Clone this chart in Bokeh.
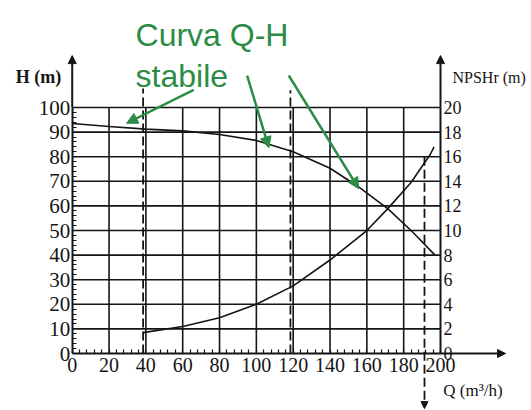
from bokeh.plotting import figure
from bokeh.models import (LinearAxis, Range1d, SingleIntervalTicker, Arrow,
                          NormalHead, Label)
from bokeh.embed import file_html
from bokeh.resources import INLINE

# ---- data ----
Q_H = [0, 20, 40, 60, 80, 100, 120, 140, 155, 171.5, 185, 197]
H = [93.5, 92.3, 91.2, 90.5, 89.0, 86.6, 82.0, 75.3, 68.0, 58.8, 49.3, 40.0]

Q_NPSH = [38.5, 60, 80, 100, 120, 140, 160, 171.5, 184, 194.5, 196.5]
NPSH = [1.7, 2.2, 2.9, 4.0, 5.5, 7.6, 10.0, 11.8, 13.9, 16.2, 16.8]

GRID_Q = [20, 40, 60, 80, 100, 120, 140, 160, 180]
GRID_H = [10, 20, 30, 40, 50, 60, 70, 80, 90, 100]
DASH_Q = [38.5, 118.5]
DASH_Q_ARROW = 191.3

TITLE_1 = "Curva Q-H"
TITLE_2 = "stabile"
GREEN = "#2b8c45"
INK = "#151515"

p = figure(width=531, height=410,
           x_range=Range1d(-38.94, 249.41), y_range=Range1d(-23.17, 143.50),
           min_border=0, toolbar_location=None, output_backend="svg",
           x_axis_location=None, y_axis_location=None)
p.extra_y_ranges = {"npsh": Range1d(-4.634, 28.70)}
p.outline_line_color = None
p.grid.visible = False
p.background_fill_color = "white"

# grid
p.segment(x0=GRID_Q, y0=[0] * len(GRID_Q), x1=GRID_Q, y1=[100] * len(GRID_Q),
          line_color=INK, line_width=1.6)
p.segment(x0=[0] * len(GRID_H), y0=GRID_H, x1=[200] * len(GRID_H), y1=GRID_H,
          line_color=INK, line_width=1.6)

# dashed verticals
p.segment(x0=DASH_Q, y0=[0, 0], x1=DASH_Q, y1=[107.7, 107.0],
          line_color=INK, line_width=1.8, line_dash="9 4")
p.add_layout(Arrow(x_start=DASH_Q_ARROW, y_start=80, x_end=DASH_Q_ARROW, y_end=-22.4,
                   line_color=INK, line_width=1.8, line_dash="9 4",
                   end=NormalHead(size=7, fill_color=INK, line_color=INK)))

# curves
p.line(Q_H, H, line_color=INK, line_width=1.6)
p.line(Q_NPSH, NPSH, y_range_name="npsh", line_color=INK, line_width=1.6)


def style(ax, size):
    ax.axis_line_color = INK
    ax.axis_line_width = 2
    ax.major_tick_in = 0
    ax.major_tick_out = 0
    ax.minor_tick_out = 0
    ax.minor_tick_in = 4
    ax.minor_tick_line_color = INK
    ax.minor_tick_line_width = 1.2
    ax.major_label_text_font = "Liberation Serif"
    ax.major_label_text_font_size = size
    ax.major_label_text_color = INK


left = LinearAxis(fixed_location=0, bounds=(0, 100),
                  ticker=SingleIntervalTicker(interval=10, num_minor_ticks=5))
style(left, "21px")
left.major_label_standoff = 2
p.add_layout(left, "left")

right = LinearAxis(fixed_location=200, bounds=(0, 20), y_range_name="npsh",
                   ticker=SingleIntervalTicker(interval=2, num_minor_ticks=0))
style(right, "18px")
right.minor_tick_in = 0
right.major_label_standoff = 3
p.add_layout(right, "right")

bottom = LinearAxis(fixed_location=0, bounds=(0, 200),
                    ticker=SingleIntervalTicker(interval=20, num_minor_ticks=5))
style(bottom, "20px")
bottom.major_label_standoff = 4
p.add_layout(bottom, "below")

# axis arrows
for xs, ys, xe, ye in [(0, 100, 0, 121.1), (200, 100, 200, 121.1), (200, 0, 235.3, 0)]:
    p.add_layout(Arrow(x_start=xs, y_start=ys, x_end=xe, y_end=ye,
                       line_color=INK, line_width=2,
                       end=NormalHead(size=8, fill_color=INK, line_color=INK)))

# axis titles
p.add_layout(Label(x=-18.3, y=112.2, text="H (m)", text_font="Liberation Serif",
                   text_font_size="18px", text_font_style="bold", text_color=INK,
                   text_align="center", text_baseline="middle"))
p.add_layout(Label(x=206.5, y=112.4, text="NPSHr (m)", text_font="Liberation Serif",
                   text_font_size="16px", text_color=INK,
                   text_align="left", text_baseline="middle"))
p.add_layout(Label(x=201.5, y=-15.0, text="Q (m\u00b3/h)", text_font="Liberation Serif",
                   text_font_size="17px", text_color=INK,
                   text_align="left", text_baseline="middle"))

# green annotation
p.add_layout(Label(x=34.4, y=129.3, text=TITLE_1, text_font="Liberation Sans",
                   text_font_size="32px", text_color=GREEN,
                   text_align="left", text_baseline="alphabetic"))
p.add_layout(Label(x=34.4, y=113.0, text=TITLE_2, text_font="Liberation Sans",
                   text_font_size="32px", text_color=GREEN,
                   text_align="left", text_baseline="alphabetic"))
for xs, ys, xe, ye in [(66.0, 107.2, 29.5, 93.6), (95.0, 113.0, 106.8, 83.6),
                       (117.6, 113.0, 155.6, 67.0)]:
    p.add_layout(Arrow(x_start=xs, y_start=ys, x_end=xe, y_end=ye,
                       line_color=GREEN, line_width=2.5,
                       end=NormalHead(size=11, fill_color=GREEN, line_color=GREEN)))

open("out.html", "w").write(file_html(p, INLINE))
